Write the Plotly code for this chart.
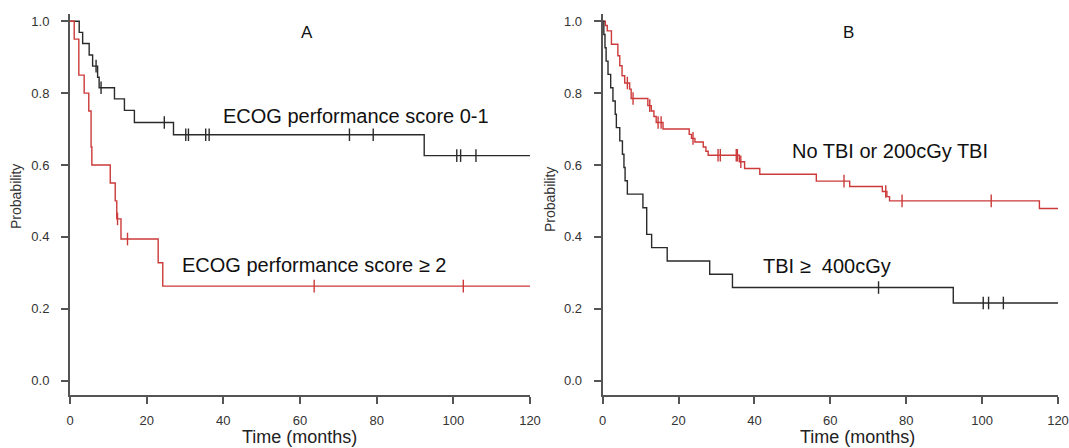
import numpy as np
import plotly.graph_objects as go

# ---------------- Data ----------------
# Panel A: ECOG performance score 0-1 (black)
a_good_t = [0, 2.4, 3.3, 5.0, 5.9, 7.2, 7.6, 11.6, 14.2, 16.8, 27.0, 92.4, 120]
a_good_s = [1.0, 0.969, 0.938, 0.906, 0.875, 0.844, 0.815, 0.784, 0.752, 0.718, 0.684, 0.626, 0.626]
a_good_cens = [6.8, 8.1, 24.6, 30.2, 30.9, 35.4, 36.3, 72.9, 79.1, 100.9, 101.9, 105.9]

# Panel A: ECOG performance score >= 2 (red)
a_poor_t = [0, 1.1, 2.3, 3.7, 4.9, 5.5, 5.7, 10.5, 11.8, 12.2, 13.3, 23.0, 24.2, 120]
a_poor_s = [1.0, 0.95, 0.85, 0.80, 0.75, 0.65, 0.60, 0.55, 0.50, 0.45, 0.394, 0.328, 0.263, 0.263]
a_poor_cens = [12.4, 15.0, 63.7, 102.6]

# Panel B: No TBI or 200cGy TBI (red)
b_low_t = [0, 0.7, 1.2, 2.3, 4.0, 4.5, 5.1, 5.8, 7.1, 7.5, 11.9, 12.8, 13.5, 14.1, 15.9,
           22.8, 23.4, 24.3, 26.5, 27.2, 27.8, 36.0, 37.4, 41.4, 56.3, 65.1, 73.7, 74.9,
           75.6, 115.1, 120]
b_low_s = [1.0, 0.988, 0.973, 0.936, 0.904, 0.876, 0.848, 0.828, 0.811, 0.785, 0.765, 0.750,
           0.735, 0.718, 0.700, 0.685, 0.674, 0.664, 0.650, 0.638, 0.627, 0.609, 0.590, 0.574,
           0.555, 0.540, 0.526, 0.512, 0.500, 0.479, 0.479]
b_low_cens = [6.5, 8.0, 12.4, 14.6, 15.4, 23.8, 30.4, 31.0, 35.2, 35.5, 36.4, 63.6, 74.6,
              78.9, 102.4]

# Panel B: TBI >= 400cGy (black)
b_high_t = [0, 0.3, 0.6, 0.9, 1.4, 2.1, 2.7, 3.3, 3.6, 4.5, 5.2, 5.6, 5.9, 6.5, 10.6, 11.6,
            12.9, 17.0, 28.2, 34.2, 92.4, 120]
b_high_s = [1.0, 0.963, 0.926, 0.889, 0.852, 0.815, 0.778, 0.741, 0.704, 0.667, 0.630, 0.593,
            0.556, 0.519, 0.481, 0.407, 0.370, 0.333, 0.296, 0.259, 0.216, 0.216]
b_high_cens = [72.7, 100.3, 101.7, 105.6]

x_ticks = [0, 20, 40, 60, 80, 100, 120]
y_ticks = [0.0, 0.2, 0.4, 0.6, 0.8, 1.0]

RED = "#cc3a3a"
BLACK = "#2a2a2a"
AXIS = "#555555"
FONT = "Liberation Sans, Arial, sans-serif"


def step_value(t, s, x):
    t = np.asarray(t)
    s = np.asarray(s)
    idx = np.searchsorted(t, x, side="right") - 1
    return s[idx]


fig = go.Figure()


def add_curve(t, s, cens, color, xa, ya):
    fig.add_trace(go.Scatter(x=t, y=s, mode="lines", line=dict(color=color, width=1.4, shape="hv"),
                             xaxis=xa, yaxis=ya, showlegend=False, hoverinfo="skip"))
    cy = step_value(t, s, np.asarray(cens))
    fig.add_trace(go.Scatter(x=cens, y=cy, mode="markers",
                             marker=dict(symbol="line-ns", size=9,
                                         line=dict(color=color, width=1.4)),
                             xaxis=xa, yaxis=ya, showlegend=False, hoverinfo="skip"))


add_curve(a_good_t, a_good_s, a_good_cens, BLACK, "x", "y")
add_curve(a_poor_t, a_poor_s, a_poor_cens, RED, "x", "y")
add_curve(b_low_t, b_low_s, b_low_cens, RED, "x2", "y2")
add_curve(b_high_t, b_high_s, b_high_cens, BLACK, "x2", "y2")

W, H = 1069, 448
MT, MB = 14, 53
axis_common = dict(showline=True, linecolor=AXIS, linewidth=2, ticks="outside", ticklen=7,
                   tickwidth=1.5, tickcolor=AXIS, showgrid=False, zeroline=False,
                   automargin=False,
                   tickfont=dict(family=FONT, size=13, color="#333333"))

fig.update_layout(
    width=W, height=H,
    margin=dict(l=0, r=0, t=MT, b=MB),
    paper_bgcolor="white", plot_bgcolor="white",
    xaxis=dict(domain=[70 / W, 530 / W], range=[0, 120], tickvals=x_ticks,
               anchor="y", ticklabelstandoff=5, **axis_common),
    yaxis=dict(domain=[0, 1], range=[-0.04, 1.02], tickvals=y_ticks, tickformat=".1f",
               anchor="x", ticklabelstandoff=9, **axis_common),
    xaxis2=dict(domain=[602.7 / W, 1058 / W], range=[0, 120], tickvals=x_ticks,
                anchor="y2", ticklabelstandoff=5, **axis_common),
    yaxis2=dict(domain=[0, 1], range=[-0.04, 1.02], tickvals=y_ticks, tickformat=".1f",
                anchor="x2", ticklabelstandoff=9, **axis_common),
)


def ann(text, x, y, size, angle=0, color="#111111"):
    fig.add_annotation(text=text, x=x / W, y=(H - MB - y) / (H - MT - MB),
                       xref="paper", yref="paper",
                       xanchor="center", yanchor="middle", showarrow=False, textangle=angle,
                       font=dict(family=FONT, size=size, color=color))


ann("A", 307, 33, 17)
ann("B", 848, 33, 17)
ann("ECOG performance score 0-1", 356, 116, 20)
ann("ECOG performance score \u2265 2", 314, 265, 20)
ann("No TBI or 200cGy TBI", 890, 151, 20)
ann("TBI \u2265\u00a0 400cGy", 827, 266, 20)
ann("Probability", 16, 197, 14, angle=-90, color="#333333")
ann("Probability", 550, 200, 14, angle=-90, color="#333333")
ann("Time (months)", 299, 437, 18, color="#222222")
ann("Time (months)", 857, 437, 18, color="#222222")

fig.write_html("out.html", config={"displayModeBar": False},
               post_script="document.body.style.margin='0';document.body.style.overflow='hidden';")
